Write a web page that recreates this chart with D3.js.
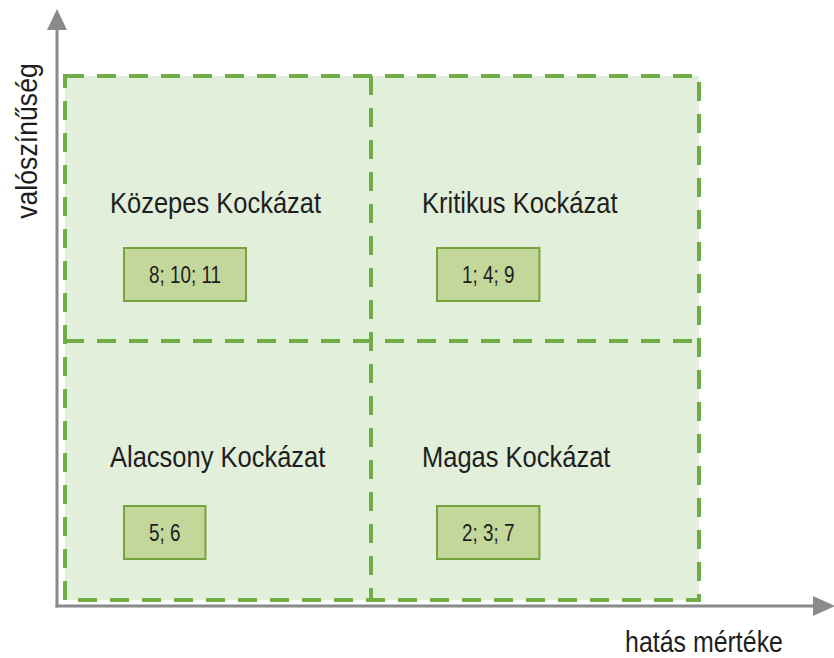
<!DOCTYPE html>
<html>
<head>
<meta charset="utf-8">
<script src="https://cdn.jsdelivr.net/npm/d3@7"></script>
<style>
  body { margin: 0; background: #fff; }
  svg text { font-family: "Liberation Sans", Arial, sans-serif; fill: #1e1e1e; }
</style>
</head>
<body>
<div id="chart"></div>
<script>
// risk matrix data
var titles = ["Közepes Kockázat", "Kritikus Kockázat", "Alacsony Kockázat", "Magas Kockázat"];
var items = ["8; 10; 11", "1; 4; 9", "5; 6", "2; 3; 7"];
var impact = ["low", "high", "low", "high"];        // column (hatás mértéke)
var likelihood = ["high", "high", "low", "low"];    // row (valószínűség)
var impactLevels = ["low", "high"];
var likelihoodLevels = ["high", "low"];
var xLabel = "hatás mértéke";
var yLabel = "valószínűség";

var width = 834,
    height = 658,
    narrow = 0.82; // the original uses a condensed face

var svg = d3.select("#chart")
    .append("svg")
    .attr("width", width)
    .attr("height", height);

// quadrant grid (the split is not centred in the original)
var gx0 = 65, gx1 = 699, gy0 = 76, gy1 = 600;
var x = d3.scaleOrdinal().domain(impactLevels).range([gx0, 371]);
var y = d3.scaleOrdinal().domain(likelihoodLevels).range([gy0, 341]);

// offsets inside a quadrant, by column / row
var titleDx = { low: 45, high: 51 },
    titleDy = { high: 137, low: 126 },
    boxDx = { low: 59, high: 66 },
    boxDy = { high: 172, low: 165 },
    boxPad = 25,
    boxH = 53;

svg.append("rect")
    .attr("x", gx0)
    .attr("y", gy0)
    .attr("width", gx1 - gx0)
    .attr("height", gy1 - gy0)
    .attr("fill", "#e2efda");

// dashed borders
var dash = svg.append("g")
    .attr("fill", "none")
    .attr("stroke", "#70ad47")
    .attr("stroke-width", 4)
    .attr("stroke-dasharray", "19,13");

dash.append("rect")
    .attr("x", gx0)
    .attr("y", gy0)
    .attr("width", gx1 - gx0)
    .attr("height", gy1 - gy0);

dash.append("line")
    .attr("x1", x("high")).attr("x2", x("high"))
    .attr("y1", gy0).attr("y2", gy1);

dash.append("line")
    .attr("x1", gx0).attr("x2", gx1)
    .attr("y1", y("low")).attr("y2", y("low"));

// quadrants
var quad = svg.selectAll("g.quad")
    .data(titles.map(function (t, i) {
        return { title: t, items: items[i], col: impact[i], row: likelihood[i] };
    }))
    .enter()
    .append("g")
    .attr("class", "quad")
    .attr("transform", function (d) { return "translate(" + x(d.col) + "," + y(d.row) + ")"; });

quad.append("text")
    .attr("transform", function (d) {
        return "translate(" + titleDx[d.col] + "," + titleDy[d.row] + ") scale(0.85,1)";
    })
    .style("font-size", "30px")
    .text(function (d) { return d.title; });

var box = quad.append("g")
    .attr("transform", function (d) { return "translate(" + boxDx[d.col] + "," + boxDy[d.row] + ")"; });

var boxText = box.append("text")
    .attr("dy", "0.35em")
    .attr("text-anchor", "middle")
    .style("font-size", "23px")
    .text(function (d) { return d.items; });

box.insert("rect", "text")
    .attr("fill", "#c4d79b")
    .attr("stroke", "#76a23f")
    .attr("stroke-width", 2)
    .attr("height", boxH)
    .attr("width", function () {
        var t = d3.select(this.parentNode).select("text").node();
        return t.getComputedTextLength() * narrow + boxPad * 2;
    });

boxText.attr("transform", function () {
    var w = this.getComputedTextLength() * narrow;
    return "translate(" + (w / 2 + boxPad) + "," + (boxH / 2) + ") scale(" + narrow + ",1)";
});

// axes
var axisColor = "#8a8a8a";
var ox = 57, oy = 606;

svg.append("line")
    .attr("x1", ox).attr("y1", oy + 1.5)
    .attr("x2", ox).attr("y2", 28)
    .attr("stroke", axisColor).attr("stroke-width", 3);

svg.append("line")
    .attr("x1", ox - 1.5).attr("y1", oy)
    .attr("x2", 815).attr("y2", oy)
    .attr("stroke", axisColor).attr("stroke-width", 3);

svg.append("path")
    .attr("d", d3.line()([[ox, 9], [ox - 10, 30], [ox + 10, 30]]) + "Z")
    .attr("fill", axisColor);

svg.append("path")
    .attr("d", d3.line()([[835, oy], [813, oy - 10], [813, oy + 10]]) + "Z")
    .attr("fill", axisColor);

svg.append("text")
    .attr("transform", "translate(704,652) scale(0.86,1)")
    .attr("text-anchor", "middle")
    .style("font-size", "29px")
    .text(xLabel);

svg.append("text")
    .attr("transform", "translate(37,141) rotate(-90) scale(0.92,1)")
    .attr("text-anchor", "middle")
    .style("font-size", "29px")
    .text(yLabel);
</script>
</body>
</html>
